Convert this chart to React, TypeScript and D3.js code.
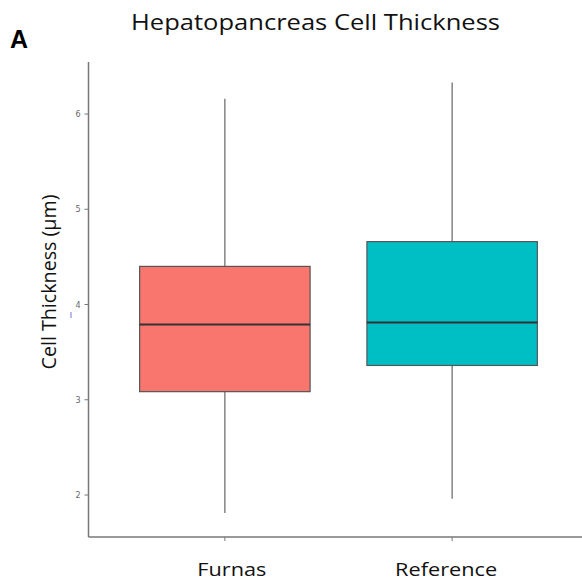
import React from "react";
import * as d3 from "d3";

const categories = ["Furnas", "Reference"];
const lowerWhisker = [1.81, 1.96];
const q1 = [3.085, 3.36];
const medians = [3.79, 3.81];
const q3 = [4.4, 4.66];
const upperWhisker = [6.16, 6.33];
const colors = ["#F8766D", "#00BFC4"];
const yTicks = [2, 3, 4, 5, 6];

export default function App() {
  const W = 582, H = 581;
  const left = 88.5, top = 62, bottom = 537;
  const y = d3.scaleLinear().domain([2, 6]).range([495, 114]);
  const x = d3.scaleLinear().domain([0.4, 2.6]).range([left, left + 500]);
  const bw = 0.75;
  const labelLen = [69, 102];
  return (
    <svg width={W} height={H} style={{ position: "absolute", left: 0, top: 0, background: "#fff" }}>
      <rect x={0} y={0} width={W} height={H} fill="#fff" />
      <text x={10} y={48} fontFamily="Liberation Sans, Arial, sans-serif" fontWeight="bold" fontSize={25} fill="#000">A</text>
      <text x={131} y={30} textLength={369} lengthAdjust="spacingAndGlyphs" fontFamily="Open Sans, sans-serif" fontSize={21} fill="#111">Hepatopancreas Cell Thickness</text>
      {/* boxes */}
      {categories.map((c, i) => {
        const cx = x(i + 1);
        const x0 = x(i + 1 - bw / 2), x1 = x(i + 1 + bw / 2);
        return (
          <g key={c}>
            <line x1={cx} x2={cx} y1={y(upperWhisker[i])} y2={y(q3[i])} stroke="#666" strokeWidth={1.2} />
            <line x1={cx} x2={cx} y1={y(q1[i])} y2={y(lowerWhisker[i])} stroke="#666" strokeWidth={1.2} />
            <rect x={x0} y={y(q3[i])} width={x1 - x0} height={y(q1[i]) - y(q3[i])} fill={colors[i]} stroke="#555" strokeWidth={1.2} />
            <line x1={x0} x2={x1} y1={y(medians[i])} y2={y(medians[i])} stroke="#333" strokeWidth={2} />
          </g>
        );
      })}
      {/* axes */}
      <line x1={left} x2={left} y1={top} y2={bottom} stroke="#777" strokeWidth={1.5} />
      <line x1={left} x2={W} y1={bottom} y2={bottom} stroke="#777" strokeWidth={1.5} />
      {yTicks.map((t) => (
        <g key={t}>
          <line x1={left - 4} x2={left} y1={y(t)} y2={y(t)} stroke="#777" strokeWidth={1} />
          <text x={left - 8} y={y(t) + 3} textAnchor="end" fontFamily="DejaVu Sans, sans-serif" fontSize={8} fill="#666">{t}</text>
        </g>
      ))}
      {categories.map((c, i) => (
        <g key={c}>
          <line x1={x(i + 1)} x2={x(i + 1)} y1={bottom} y2={bottom + 4} stroke="#777" strokeWidth={1} />
          <text x={x(i + 1) + (i === 0 ? 7 : -6)} y={576} textAnchor="middle" textLength={labelLen[i]} lengthAdjust="spacingAndGlyphs" fontFamily="Open Sans, sans-serif" fontSize={18} fill="#111">{c}</text>
        </g>
      ))}
      <line x1={71} x2={71} y1={312} y2={318} stroke="#7777cc" strokeWidth={1} />
      <text transform={`translate(56,${282}) rotate(-90)`} textAnchor="middle" textLength={175} lengthAdjust="spacingAndGlyphs" fontFamily="Open Sans, sans-serif" fontSize={20} fill="#111">Cell Thickness (μm)</text>
    </svg>
  );
}
